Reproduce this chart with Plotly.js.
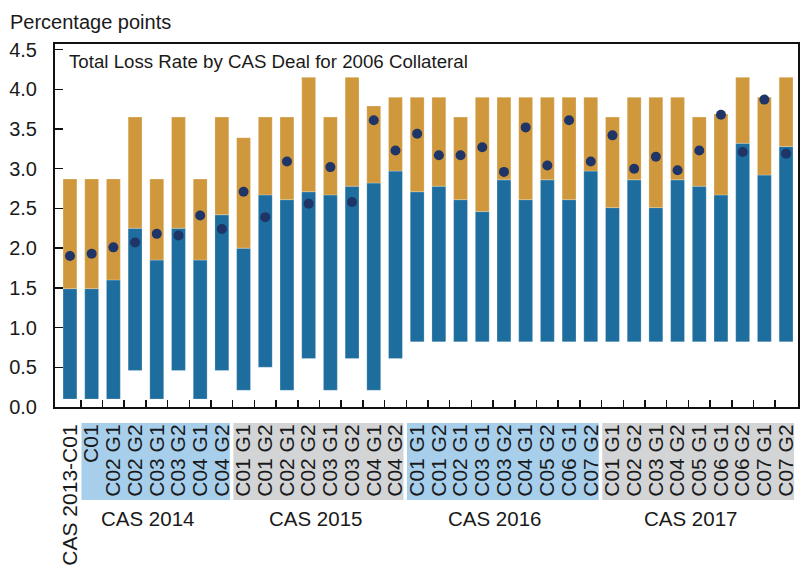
<!DOCTYPE html>
<html>
<head>
<meta charset="utf-8">
<script src="https://cdn.plot.ly/plotly-3.0.1.min.js"></script>
<style>
  body { margin: 0; background: #fff; }
  #chart { width: 804px; height: 567px; }
</style>
</head>
<body>
<div id="chart"></div>
<script>
// deal labels, in chart order
const dealLabels = [
    'CAS 2013-C01',
    'C01', 'C02 G1', 'C02 G2', 'C03 G1', 'C03 G2', 'C04 G1', 'C04 G2',
    'C01 G1', 'C01 G2', 'C02 G1', 'C02 G2', 'C03 G1', 'C03 G2', 'C04 G1', 'C04 G2',
    'C01 G1', 'C01 G2', 'C02 G1', 'C03 G1', 'C03 G2', 'C04 G1', 'C05 G2', 'C06 G1', 'C07 G2',
    'C01 G1', 'C02 G2', 'C03 G1', 'C04 G2', 'C05 G1', 'C06 G1', 'C06 G2', 'C07 G1', 'C07 G2'
];

// bottom and top of the blue part, top of the orange part
const blueBottom = [
    0.10,
    0.10, 0.10, 0.46, 0.10, 0.46, 0.10, 0.46,
    0.21, 0.50, 0.21, 0.61, 0.21, 0.61, 0.21, 0.61,
    0.82, 0.82, 0.82, 0.82, 0.82, 0.82, 0.82, 0.82, 0.82,
    0.82, 0.82, 0.82, 0.82, 0.82, 0.82, 0.82, 0.82, 0.82
];
const blueTop = [
    1.49,
    1.49, 1.60, 2.25, 1.85, 2.25, 1.85, 2.42,
    2.00, 2.67, 2.61, 2.71, 2.67, 2.78, 2.82, 2.97,
    2.71, 2.78, 2.61, 2.46, 2.86, 2.61, 2.86, 2.61, 2.97,
    2.51, 2.86, 2.51, 2.86, 2.78, 2.67, 3.32, 2.92, 3.28
];
const totalTop = [
    2.87,
    2.87, 2.87, 3.65, 2.87, 3.65, 2.87, 3.65,
    3.39, 3.65, 3.65, 4.15, 3.65, 4.15, 3.79, 3.90,
    3.90, 3.90, 3.65, 3.90, 3.90, 3.90, 3.90, 3.90, 3.90,
    3.65, 3.90, 3.90, 3.90, 3.65, 3.69, 4.15, 3.90, 4.15
];
// dots
const lossRate = [
    1.90,
    1.93, 2.01, 2.07, 2.18, 2.16, 2.41, 2.24,
    2.71, 2.39, 3.09, 2.56, 3.02, 2.58, 3.61, 3.23,
    3.44, 3.17, 3.17, 3.27, 2.96, 3.52, 3.04, 3.61, 3.09,
    3.42, 3.00, 3.15, 2.98, 3.23, 3.68, 3.21, 3.87, 3.19
];

// year groups under the axis
const groupNames = ['CAS 2014', 'CAS 2015', 'CAS 2016', 'CAS 2017'];
const groupFirst = [1, 8, 16, 25];
const groupLast = [7, 15, 24, 33];

const BLUE = '#1d6d9e';
const ORANGE = '#cf983d';
const NAVY = '#1f3467';
const BAND_COLORS = ['#a7cfec', '#d3d4d6'];
const FONT = 'Liberation Sans, Arial, sans-serif';

const xs = dealLabels.map((_, i) => i);
const xRange = [-0.69, 33.55];
const toPaperX = v => (v - xRange[0]) / (xRange[1] - xRange[0]);

const blueTrace = {
    x: xs,
    y: blueTop.map((t, i) => t - blueBottom[i]),
    base: blueBottom,
    type: 'bar',
    width: 0.64,
    marker: { color: BLUE, line: { color: 'rgba(255,255,255,0.4)', width: 0.6 } },
    hoverinfo: 'skip'
};

const orangeTrace = {
    x: xs,
    y: totalTop.map((t, i) => t - blueTop[i]),
    base: blueTop,
    type: 'bar',
    width: 0.64,
    marker: { color: ORANGE, line: { color: 'rgba(255,255,255,0.4)', width: 0.6 } },
    hoverinfo: 'skip'
};

const dotTrace = {
    x: xs,
    y: lossRate,
    type: 'scatter',
    mode: 'markers',
    marker: { color: NAVY, size: 10 },
    hoverinfo: 'skip'
};

const shapes = groupNames.map((_, g) => ({
    type: 'rect',
    xref: 'paper', yref: 'paper',
    x0: toPaperX(groupFirst[g] - 0.47),
    x1: toPaperX(groupLast[g] + 0.37),
    y0: -0.256, y1: -0.044,
    fillcolor: BAND_COLORS[g % 2],
    line: { width: 0 },
    layer: 'below'
}));

// group label centres, as placed in the original
const groupLabelX = [3.59, 11.32, 19.57, 28.58];
const annotations = groupNames.map((name, g) => ({
    text: name,
    xref: 'x', yref: 'paper',
    x: groupLabelX[g], y: -0.306,
    xanchor: 'center', yanchor: 'middle',
    showarrow: false,
    font: { size: 20.5, color: '#1a1a1a', family: FONT }
}));

annotations.push({
    text: 'Percentage points',
    xref: 'paper', yref: 'paper',
    x: -0.0633, y: 1.0614,
    xanchor: 'left', yanchor: 'middle',
    showarrow: false,
    font: { size: 20, color: '#1a1a1a', family: FONT }
});
annotations.push({
    text: 'Total Loss Rate by CAS Deal for 2006 Collateral',
    xref: 'paper', yref: 'paper',
    x: 0.0157, y: 0.951,
    xanchor: 'left', yanchor: 'middle',
    showarrow: false,
    font: { size: 18.7, color: '#1a1a1a', family: FONT }
});

const layout = {
    width: 804,
    height: 567,
    margin: { l: 55, r: 6, t: 44, b: 160 },
    paper_bgcolor: '#ffffff',
    plot_bgcolor: '#ffffff',
    barmode: 'overlay',
    showlegend: false,
    font: { family: FONT, color: '#1a1a1a' },
    xaxis: {
        range: xRange,
        tickmode: 'array',
        tickvals: xs,
        ticktext: dealLabels,
        tickangle: -90,
        ticks: '',
        tickfont: { size: 21, color: '#1a1a1a' },
        ticklabelstandoff: 7,
        minor: {
            tickmode: 'array',
            tickvals: xs.slice(1).map(i => i - 0.5),
            ticks: 'inside',
            ticklen: 7,
            tickwidth: 1.5,
            tickcolor: '#111'
        },
        showgrid: false,
        zeroline: false,
        showline: true,
        mirror: true,
        linecolor: '#111',
        linewidth: 2
    },
    yaxis: {
        range: [0, 4.57],
        tick0: 0,
        dtick: 0.5,
        tickformat: '.1f',
        ticks: 'inside',
        ticklen: 8,
        tickwidth: 1.5,
        tickcolor: '#111',
        tickfont: { size: 20, color: '#1a1a1a' },
        ticklabelstandoff: 12,
        showgrid: false,
        zeroline: false,
        showline: true,
        mirror: true,
        linecolor: '#111',
        linewidth: 2
    },
    shapes: shapes,
    annotations: annotations
};

Plotly.newPlot('chart', [blueTrace, orangeTrace, dotTrace], layout, { staticPlot: true });
</script>
</body>
</html>
